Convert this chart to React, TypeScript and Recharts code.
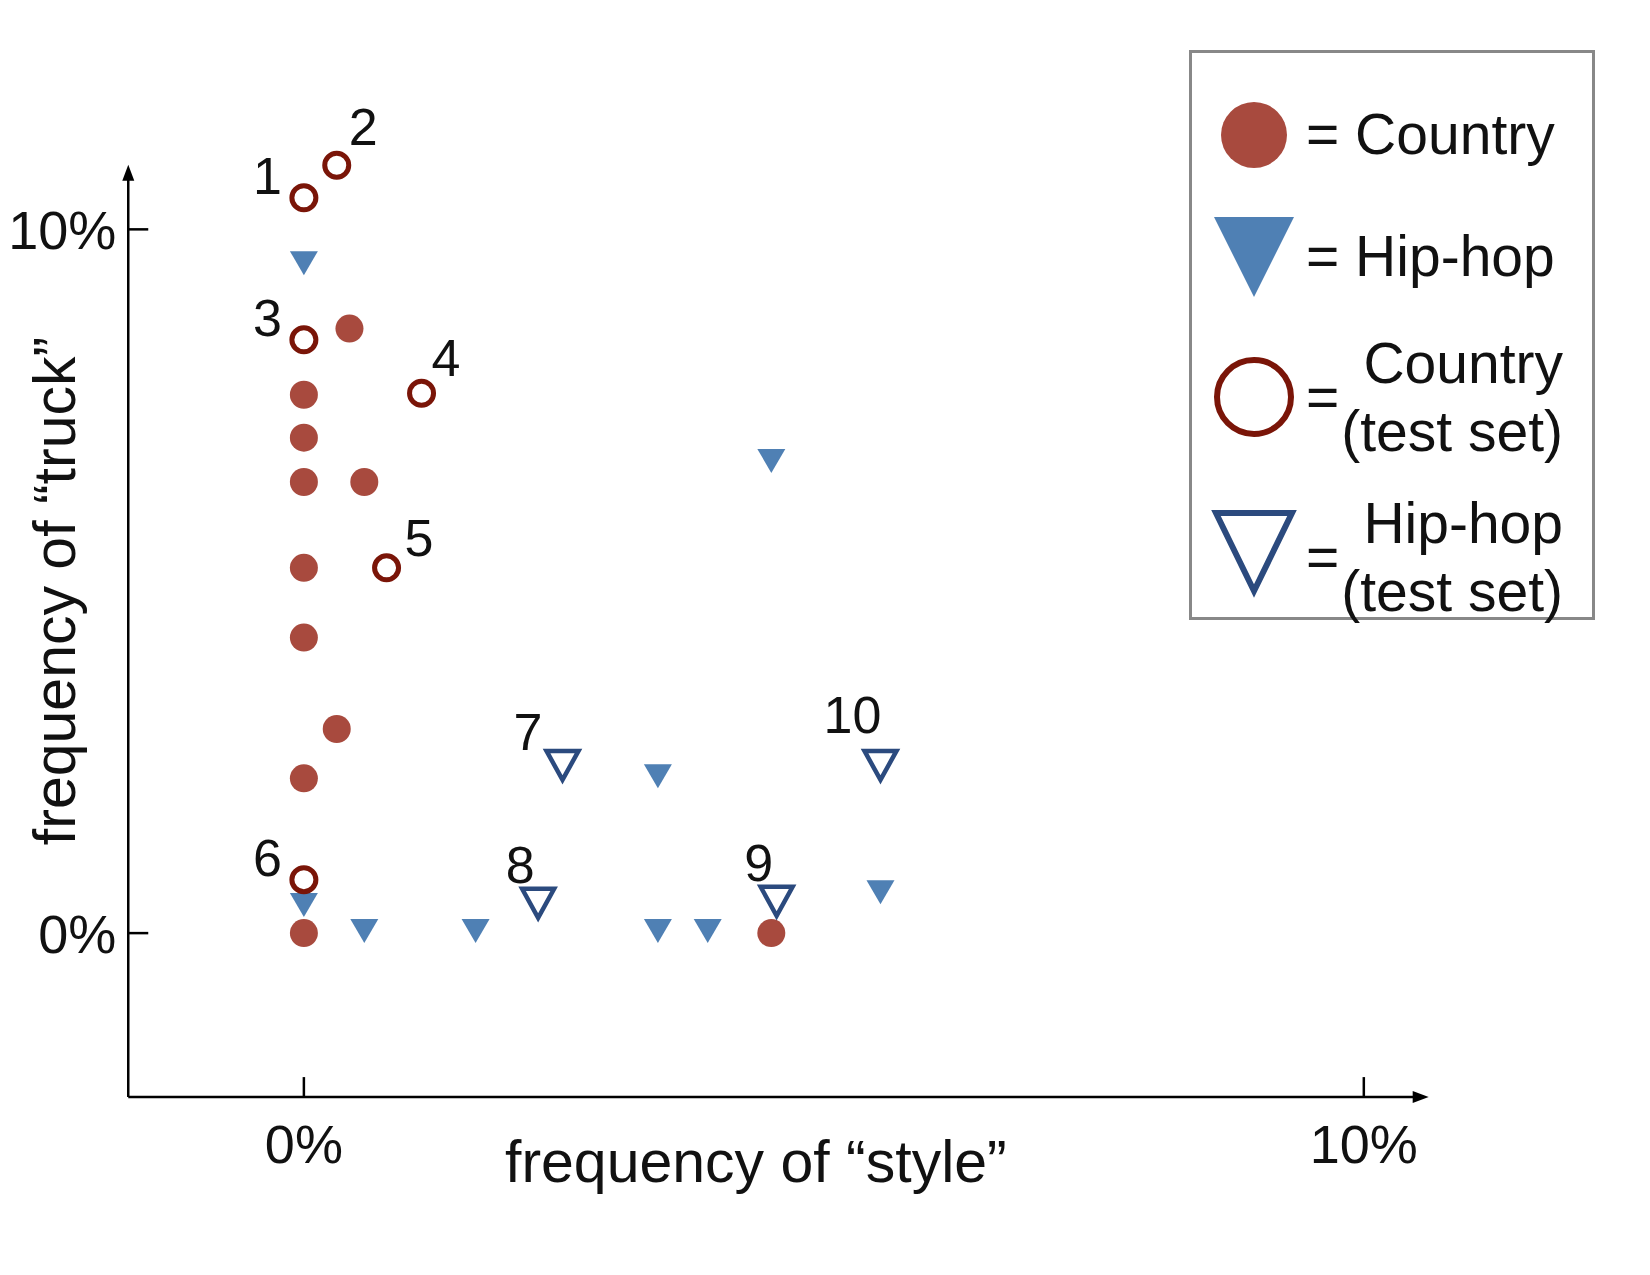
import React from 'react';
import { ScatterChart, Scatter, XAxis, YAxis, LabelList, ReferenceLine, ReferenceDot } from 'recharts';

const countryTrain = [
  { x: 0, y: 7.65 }, { x: 0, y: 7.04 }, { x: 0, y: 6.41 }, { x: 0.57, y: 6.41 },
  { x: 0.43, y: 8.59 }, { x: 0, y: 5.19 }, { x: 0, y: 4.2 }, { x: 0.31, y: 2.9 },
  { x: 0, y: 2.2 }, { x: 0, y: 0 }, { x: 4.41, y: 0 },
];
const hiphopTrain = [
  { x: 0, y: 9.52 }, { x: 4.41, y: 6.71 }, { x: 3.34, y: 2.23 }, { x: 0, y: 0.4 },
  { x: 0.57, y: 0.03 }, { x: 1.62, y: 0.03 }, { x: 3.34, y: 0.03 }, { x: 3.81, y: 0.03 },
  { x: 5.44, y: 0.58 },
];
const countryTest = [
  { x: 0, y: 10.45, label: '1' }, { x: 0.31, y: 10.91, label: '2' },
  { x: 0, y: 8.43, label: '3' }, { x: 1.11, y: 7.67, label: '4' },
  { x: 0.78, y: 5.19, label: '5' }, { x: 0, y: 0.76, label: '6' },
];
const hiphopTest = [
  { x: 2.44, y: 2.39, label: '7' }, { x: 2.21, y: 0.43, label: '8' },
  { x: 4.46, y: 0.46, label: '9' }, { x: 5.44, y: 2.39, label: '10' },
];
const xTicks = [0, 10];
const yTicks = [0, 10];
const X_MIN = -1.657, X_MAX = 10.48, Y_MIN = -2.33, Y_MAX = 10.72;

const LABEL_OFFSETS: Record<string, [number, number, string]> = {
  '1': [-22, -4, 'end'], '2': [12, -20, 'start'], '3': [-22, -4, 'end'],
  '4': [10, -17, 'start'], '5': [18, -12, 'start'], '6': [-22, -4, 'end'],
  '7': [-20, -15, 'end'], '8': [-18, -20, 'middle'], '9': [-18, -20, 'middle'],
  '10': [-28, -32, 'middle'],
};

const FONT = '"Liberation Sans", Arial, sans-serif';
const RED = '#a84a3e';
const DARKRED = '#7a1508';
const BLUE = '#4f80b4';
const DARKBLUE = '#2b4a7e';

const FilledCircle = (p: any) => <circle cx={p.cx} cy={p.cy} r={14} fill={RED} />;
const OpenCircle = (p: any) => <circle cx={p.cx} cy={p.cy} r={12} fill="#fff" stroke={DARKRED} strokeWidth={5} />;
const FilledTri = (p: any) => (
  <path d={`M${p.cx - 14},${p.cy - 12} L${p.cx + 14},${p.cy - 12} L${p.cx},${p.cy + 12} Z`} fill={BLUE} />
);
const OpenTri = (p: any) => (
  <path d={`M${p.cx - 16},${p.cy - 14} L${p.cx + 16},${p.cy - 14} L${p.cx},${p.cy + 15} Z`} fill="#fff" stroke={DARKBLUE} strokeWidth={4.5} />
);

const NumLabel = (p: any) => {
  const o = LABEL_OFFSETS[p.value] || [0, 0, 'middle'];
  const cx = p.x + p.width / 2;
  const cy = p.y + p.height / 2;
  return (
    <text x={cx + o[0]} y={cy + o[1]} textAnchor={o[2]} fontSize={52} fontFamily={FONT} fill="#111">
      {p.value}
    </text>
  );
};

const ArrowLine = (p: any) => {
  const { x1, y1, x2, y2 } = p;
  const horiz = Math.abs(y2 - y1) < 1;
  let head;
  if (horiz) {
    const tx = Math.max(x1, x2);
    head = `M${tx + 14},${y1} L${tx - 2},${y1 - 6} L${tx - 2},${y1 + 6} Z`;
  } else {
    const ty = Math.min(y1, y2);
    head = `M${x1},${ty - 14} L${x1 - 6},${ty + 2} L${x1 + 6},${ty + 2} Z`;
  }
  return (
    <g>
      <line x1={x1} y1={y1} x2={x2} y2={y2} stroke="#000" strokeWidth={2.5} />
      <path d={head} fill="#000" />
    </g>
  );
};

const XTickMark = (p: any) => (
  <g>
    <line x1={p.cx} x2={p.cx} y1={p.cy - 20} y2={p.cy} stroke="#000" strokeWidth={2.5} />
    <text x={p.cx} y={p.cy + 66} textAnchor="middle" fontSize={54} fontFamily={FONT} fill="#111">{p.label}%</text>
  </g>
);
const YTickMark = (p: any) => (
  <g>
    <line x1={p.cx} x2={p.cx + 20} y1={p.cy} y2={p.cy} stroke="#000" strokeWidth={2.5} />
    <text x={p.cx - 12} y={p.cy + 20} textAnchor="end" fontSize={54} fontFamily={FONT} fill="#111">{p.label}%</text>
  </g>
);

const legendRow = (icon: React.ReactNode, text: React.ReactNode, h: number) => (
  <div style={{ display: 'flex', alignItems: 'center', height: h }}>
    <svg width={96} height={h}>{icon}</svg>
    <div style={{ fontSize: 57, lineHeight: '68px', fontFamily: FONT, color: '#111', display: 'flex', alignItems: 'center' }}>{text}</div>
  </div>
);

export default function App() {
  return (
    <div style={{ position: 'absolute', left: 0, top: 0, width: 1650, height: 1275, background: '#fff' }}>
      <ScatterChart width={1650} height={1275} margin={{ left: 0, top: 0, right: 0, bottom: 0 }}>
        <XAxis type="number" dataKey="x" domain={[-2.867, 12.70]} hide allowDataOverflow />
        <YAxis type="number" dataKey="y" domain={[-4.858, 13.259]} hide allowDataOverflow />
        <ReferenceLine segment={[{ x: X_MIN, y: Y_MIN }, { x: X_MAX, y: Y_MIN }]} shape={ArrowLine} ifOverflow="visible" />
        <ReferenceLine segment={[{ x: X_MIN, y: Y_MIN }, { x: X_MIN, y: Y_MAX }]} shape={ArrowLine} ifOverflow="visible" />
        {xTicks.map((t) => (
          <ReferenceDot key={'x' + t} x={t} y={Y_MIN} r={0} ifOverflow="visible" shape={(p: any) => <XTickMark {...p} label={t} />} />
        ))}
        {yTicks.map((t) => (
          <ReferenceDot key={'y' + t} x={X_MIN} y={t} r={0} ifOverflow="visible" shape={(p: any) => <YTickMark {...p} label={t} />} />
        ))}
        <Scatter data={countryTrain} shape={FilledCircle} isAnimationActive={false} />
        <Scatter data={hiphopTrain} shape={FilledTri} isAnimationActive={false} />
        <Scatter data={countryTest} shape={OpenCircle} isAnimationActive={false}>
          <LabelList dataKey="label" content={<NumLabel />} />
        </Scatter>
        <Scatter data={hiphopTest} shape={OpenTri} isAnimationActive={false}>
          <LabelList dataKey="label" content={<NumLabel />} />
        </Scatter>
      </ScatterChart>
      <div style={{ position: 'absolute', left: 505, top: 1128, fontSize: 59, fontFamily: FONT, color: '#111', whiteSpace: 'nowrap' }}>frequency of “style”</div>
      <div style={{ position: 'absolute', left: 55, top: 591, fontSize: 59, fontFamily: FONT, color: '#111', transform: 'translate(-50%,-50%) rotate(-90deg)', whiteSpace: 'nowrap' }}>frequency of “truck”</div>
      <div style={{ position: 'absolute', left: 1189, top: 50, width: 400, height: 564, border: '3px solid #888' }}>
        <div style={{ position: 'absolute', left: 18, top: 20 }}>
          {legendRow(<circle cx={44} cy={62} r={33} fill={RED} />, <span>= Country</span>, 122)}
          {legendRow(<path d="M4,22 L84,22 L44,102 Z" fill={BLUE} />, <span>= Hip-hop</span>, 122)}
          {legendRow(<circle cx={44} cy={80} r={37} fill="#fff" stroke={DARKRED} strokeWidth={6} />,
            <span style={{ display: 'flex', alignItems: 'center' }}>=<span style={{ textAlign: 'right', marginLeft: 2 }}>Country<br />(test set)</span></span>, 160)}
          {legendRow(<path d="M6,36 L82,36 L44,114 Z" fill="#fff" stroke={DARKBLUE} strokeWidth={6} />,
            <span style={{ display: 'flex', alignItems: 'center' }}>=<span style={{ textAlign: 'right', marginLeft: 2 }}>Hip-hop<br />(test set)</span></span>, 160)}
        </div>
      </div>
    </div>
  );
}
